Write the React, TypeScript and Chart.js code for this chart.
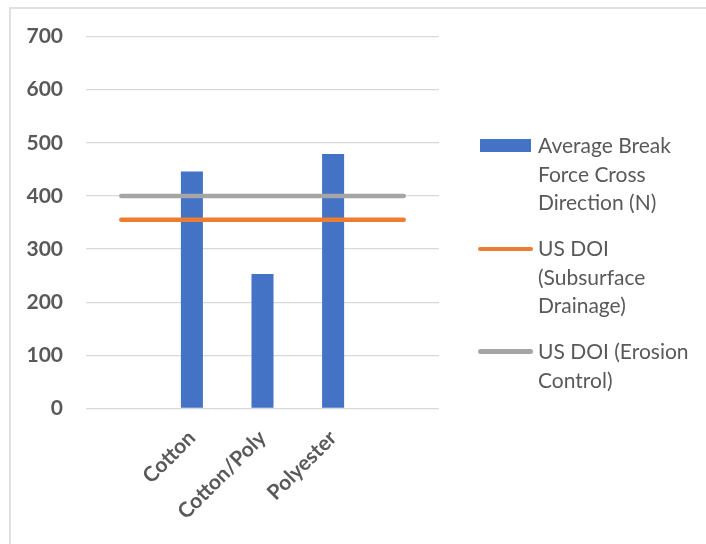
import React, { useEffect, useRef } from "react";
import { Chart, registerables } from "chart.js";

Chart.register(...registerables);

const categories = ["", "Cotton", "Cotton/Poly", "Polyester", ""];
const breakForce = [null, 446, 253, 479, null];
const subsurfaceDrainage = [355, 355, 355, 355, 355];
const erosionControl = [400, 400, 400, 400, 400];
const yTicks = [0, 100, 200, 300, 400, 500, 600, 700];

const seriesNames = [
  ["Average Break", "Force Cross", "Direction (N)"],
  ["US DOI", "(Subsurface", "Drainage)"],
  ["US DOI (Erosion", "Control)"],
];
const colors = ["#4472C4", "#ED7D31", "#A5A5A5"];

const TEXT = "#595959";
const FONT = "Lato, 'Open Sans', sans-serif";

export default function App() {
  const ref = useRef<HTMLCanvasElement>(null);
  useEffect(() => {
    if (!ref.current) return;
    const chart = new Chart(ref.current, {
      type: "bar",
      data: {
        labels: categories,
        datasets: [
          {
            type: "bar",
            label: "Average Break Force Cross Direction (N)",
            data: breakForce as any,
            backgroundColor: colors[0],
            categoryPercentage: 1,
            barPercentage: 0.312,
            order: 3,
          },
          {
            type: "line",
            label: "US DOI (Subsurface Drainage)",
            data: subsurfaceDrainage,
            borderColor: colors[1],
            backgroundColor: colors[1],
            borderWidth: 4.5,
            borderCapStyle: "round",
            pointRadius: 0,
            order: 1,
          },
          {
            type: "line",
            label: "US DOI (Erosion Control)",
            data: erosionControl,
            borderColor: colors[2],
            backgroundColor: colors[2],
            borderWidth: 4.5,
            borderCapStyle: "round",
            pointRadius: 0,
            order: 0,
          },
        ],
      },
      options: {
        responsive: false,
        maintainAspectRatio: false,
        animation: false,
        layout: { padding: { left: 0, right: 267, top: 36.5, bottom: 0 } },
        plugins: {
          legend: { display: false },
          tooltip: { enabled: false },
        },
        scales: {
          x: {
            grid: { display: false, drawTicks: false },
            border: { display: false },
            ticks: {
              color: TEXT,
              font: { family: FONT, size: 21, weight: "bold" },
              maxRotation: 45,
              minRotation: 45,
              padding: 17,
              autoSkip: false,
            },
            afterFit: (s: any) => {
              s.height = 135.5;
            },
          },
          y: {
            min: 0,
            max: 700,
            afterBuildTicks: (s: any) => {
              s.ticks = yTicks.map((v) => ({ value: v }));
            },
            grid: { color: "#d9d9d9", lineWidth: 1.3, drawTicks: false },
            border: { display: false },
            ticks: {
              color: TEXT,
              font: { family: FONT, size: 21, weight: "bold" },
              padding: 23,
            },
            afterFit: (s: any) => {
              s.width = 86;
            },
          },
        },
      },
    });
    return () => chart.destroy();
  }, []);

  const textTops = [131, 234, 337];
  return (
    <div
      style={{
        position: "fixed",
        left: 0,
        top: 0,
        width: 706,
        height: 544,
        background: "#fff",
        overflow: "hidden",
      }}
    >
      <div
        style={{
          position: "absolute",
          left: 9,
          top: 7,
          width: 720,
          height: 560,
          borderLeft: "2px solid #e0e0e0",
          borderTop: "2px solid #e0e0e0",
        }}
      />
      <canvas
        ref={ref}
        width={706}
        height={544}
        style={{ position: "absolute", left: 0, top: 0 }}
      />
      {/* legend markers */}
      <div
        style={{
          position: "absolute",
          left: 480,
          top: 139,
          width: 51,
          height: 13,
          background: colors[0],
        }}
      />
      <div
        style={{
          position: "absolute",
          left: 478,
          top: 246.5,
          width: 55,
          height: 4.5,
          borderRadius: 3,
          background: colors[1],
        }}
      />
      <div
        style={{
          position: "absolute",
          left: 478,
          top: 349,
          width: 55,
          height: 4.5,
          borderRadius: 3,
          background: colors[2],
        }}
      />
      {seriesNames.map((lines, i) => (
        <div
          key={i}
          style={{
            position: "absolute",
            left: 538,
            top: textTops[i],
            fontFamily: FONT,
            fontSize: 21,
            lineHeight: "28.7px",
            color: TEXT,
            whiteSpace: "nowrap",
          }}
        >
          {lines.map((l, j) => (
            <div key={j}>{l}</div>
          ))}
        </div>
      ))}
    </div>
  );
}
